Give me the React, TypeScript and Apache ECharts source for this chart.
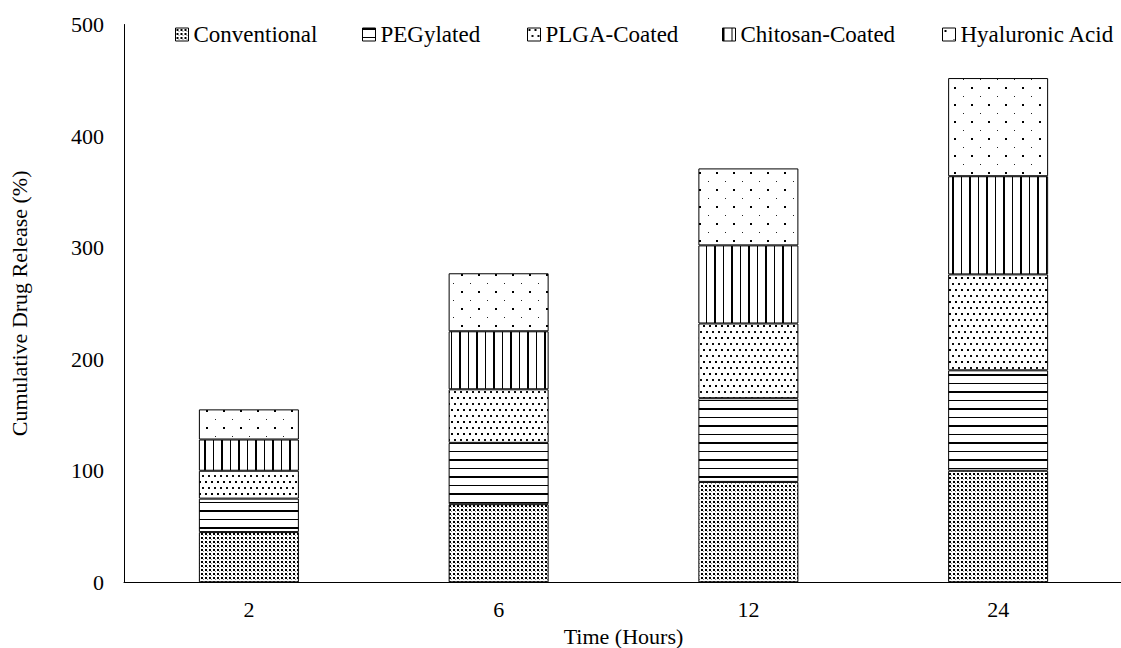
import React, { useEffect, useRef } from "react";
import * as echarts from "echarts";

const categories = ["2", "6", "12", "24"];
const conventional = [45, 70, 90, 100];
const pegylated = [30, 55, 75, 90];
const plgaCoated = [25, 48, 67, 86];
const chitosanCoated = [28, 52, 70, 88];
const hyaluronicAcid = [27, 52, 69, 88];
const seriesNames = ["Conventional", "PEGylated", "PLGA-Coated", "Chitosan-Coated", "Hyaluronic Acid"];
const yTicks = [0, 100, 200, 300, 400, 500];

const FONT = "'Liberation Serif', 'Times New Roman', serif";

function makeTile(w: number, h: number, draw: (ctx: CanvasRenderingContext2D) => void) {
  const c = document.createElement("canvas");
  c.width = w;
  c.height = h;
  const ctx = c.getContext("2d")!;
  ctx.fillStyle = "#ffffff";
  ctx.fillRect(0, 0, w, h);
  ctx.fillStyle = "#000000";
  draw(ctx);
  return { image: c, repeat: "repeat", imageWidth: w, imageHeight: h } as any;
}

export default function App() {
  const ref = useRef<HTMLDivElement>(null);
  useEffect(() => {
    if (!ref.current) return;
    const chart = echarts.init(ref.current, null, { renderer: "svg" });

    const pConv = makeTile(4, 4, (ctx) => {
      ctx.fillRect(1, 1, 2, 2);
      ctx.fillStyle = "#888";
      ctx.fillRect(3, 3, 1, 1);
    });
    const pPeg = makeTile(4, 17, (ctx) => {
      ctx.fillRect(0, 0, 4, 2);
      ctx.fillRect(0, 9, 4, 1);
    });
    const pPlga = makeTile(6, 12, (ctx) => {
      ctx.fillRect(1, 1, 2, 2);
      ctx.fillStyle = "#111";
      ctx.fillRect(4, 7, 2, 2);
    });
    const pChi = makeTile(17, 4, (ctx) => {
      ctx.fillRect(0, 0, 2, 4);
      ctx.fillRect(9, 0, 1, 4);
    });
    const pHa = makeTile(17, 17, (ctx) => {
      ctx.fillRect(2, 2, 2, 2);
      ctx.fillStyle = "#222";
      ctx.fillRect(11, 11, 1, 1);
    });

    const dataSets = [conventional, pegylated, plgaCoated, chitosanCoated, hyaluronicAcid];
    const fills = [pConv, pPeg, pPlga, pChi, pHa];
    const legendLefts = [175, 362, 527, 722, 942];

    chart.setOption({
      animation: false,
      backgroundColor: "#ffffff",
      textStyle: { fontFamily: FONT, color: "#000" },
      legend: seriesNames.map((n, i) => ({
        data: [n],
        left: legendLefts[i],
        top: 23,
        padding: 0,
        icon: "rect",
        itemWidth: 13,
        itemHeight: 13,
        textStyle: { fontFamily: FONT, fontSize: 23, color: "#000" },
        itemStyle: { borderColor: "#000", borderWidth: 1 },
        selectedMode: false,
      })),
      grid: { left: 124, right: -2, top: 24.5, bottom: 65.7, outerBoundsMode: "none", containLabel: false },
      xAxis: {
        type: "category",
        data: categories,
        name: "Time (Hours)",
        nameLocation: "middle",
        nameGap: 36,
        nameTextStyle: { fontFamily: FONT, fontSize: 22, color: "#000" },
        axisLine: { lineStyle: { color: "#000", width: 1 } },
        axisTick: { show: false },
        axisLabel: { fontFamily: FONT, fontSize: 22, color: "#000", margin: 16 },
      },
      yAxis: {
        type: "value",
        min: yTicks[0],
        max: yTicks[yTicks.length - 1],
        interval: 100,
        name: "Cumulative Drug Release (%)",
        nameLocation: "middle",
        nameGap: 94,
        nameTextStyle: { fontFamily: FONT, fontSize: 22, color: "#000" },
        axisLine: { show: true, lineStyle: { color: "#000", width: 1 } },
        axisTick: { show: false },
        splitLine: { show: false },
        axisLabel: { fontFamily: FONT, fontSize: 22, color: "#000", margin: 20 },
      },
      series: seriesNames.map((n, i) => ({
        name: n,
        type: "bar",
        stack: "total",
        barWidth: 100,
        data: dataSets[i],
        itemStyle: { color: fills[i], borderColor: "#000", borderWidth: 1 },
      })),
    });
    return () => chart.dispose();
  }, []);
  return (
    <div
      ref={ref}
      style={{ position: "absolute", left: 0, top: 0, width: 1121, height: 648, background: "#fff" }}
    />
  );
}
